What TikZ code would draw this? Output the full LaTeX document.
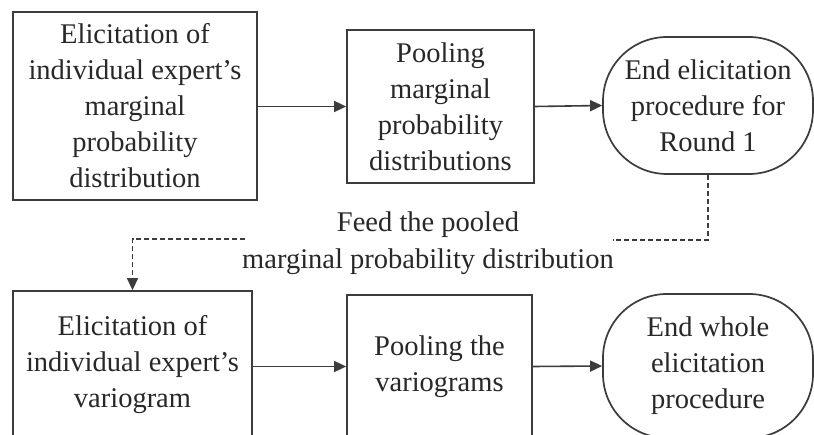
\documentclass[tikz,border=0pt]{standalone}
\usepackage{fontspec}
\setmainfont{Liberation Serif}
\usetikzlibrary{arrows.meta}
\definecolor{ink}{RGB}{40,40,40}
\definecolor{linec}{RGB}{60,60,60}
\tikzset{
  base/.style={draw=linec, line width=1.7pt, text=ink, align=center, inner sep=0pt,
    font=\fontsize{28.5}{36}\selectfont},
  boxnode/.style={base},
  endnode/.style={base, rounded corners=64pt},
  flow/.style={draw=linec, line width=1.6pt, -{Triangle[length=12pt,width=11pt]}},
  feed/.style={draw=linec, line width=1.2pt, dash pattern=on 5pt off 3pt, -{Triangle[length=12pt,width=11pt]}},
  feedline/.style={draw=linec, line width=1.2pt, dash pattern=on 5pt off 3pt},
}
\begin{document}
\begin{tikzpicture}[x=1pt,y=-1pt]
\useasboundingbox (0,0) rectangle (814,435);
\fill[white] (0,0) rectangle (814,435);
\node[boxnode, minimum width=244pt, minimum height=188pt] (A) at (135,106)
  {Elicitation of\\individual expert’s\\marginal\\probability\\distribution};
\node[boxnode, minimum width=187pt, minimum height=153pt] (B) at (440.5,106.5)
  {Pooling\\marginal\\probability\\distributions};
\node[endnode, minimum width=210pt, minimum height=137pt] (C) at (708,105.5)
  {End elicitation\\procedure for\\Round 1};
\node[boxnode, minimum width=239pt, minimum height=147pt] (D) at (132.5,364.5)
  {Elicitation of\\individual expert’s\\variogram};
\node[boxnode, minimum width=185pt, minimum height=143pt] (E) at (439.5,366.5)
  {Pooling the\\variograms};
\node[endnode, minimum width=210pt, minimum height=144pt] (F) at (708,366)
  {End whole\\elicitation\\procedure};
\node[text=ink, align=center, font=\fontsize{28.5}{37}\selectfont] (L) at (428,243)
  {Feed the pooled\\marginal probability distribution};
\coordinate (d1) at (613,240);
\coordinate (d2) at (245,239);
\draw[flow] (A.east |- B) -- (B.west);
\draw[flow] (B.east) -- (C.west);
\draw[flow] (D.east |- E) -- (E.west);
\draw[flow] (E.east) -- (F.west);
\draw[feedline] (C.south) |- (d1);
\draw[feed] (d2) -| (D.north);
\end{tikzpicture}
\end{document}
